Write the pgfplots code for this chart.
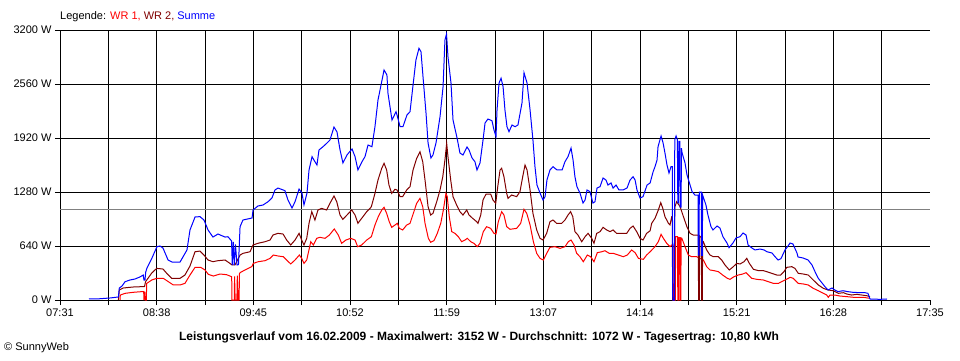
\documentclass[border=0pt]{standalone}
\usepackage{pgfplots}
\pgfplotsset{compat=1.18}
\usepackage{fontspec}
\setmainfont{Liberation Sans}
\definecolor{wrone}{RGB}{255,0,0}
\definecolor{wrtwo}{RGB}{128,0,0}
\definecolor{summe}{RGB}{0,0,255}
\definecolor{avg}{RGB}{128,128,128}
\begin{document}
\begin{tikzpicture}[x=1pt,y=1pt]
\path[use as bounding box] (0,0) rectangle (960,360);
\begin{axis}[
  at={(60pt,60pt)}, anchor=south west,
  width=870pt, height=270pt, scale only axis,
  xmin=0, xmax=603, ymin=0, ymax=3200,
  clip=false,
  axis line style={draw=none},
  xtick={0,33.5,67,100.5,134,167.5,201,234.5,268,301.5,335,368.5,402,435.5,469,502.5,536,569.5},
  xticklabels={07:31,,08:38,,09:45,,10:52,,11:59,,13:07,,14:14,,15:21,,16:28,},
  extra x ticks={603}, extra x tick labels={17:35},
  extra x tick style={grid=none},
  ytick={0,640,1280,1920,2560,3200},
  yticklabels={0 W,640 W,1280 W,1920 W,2560 W,3200 W},
  grid=major, major grid style={black, line width=1pt},
  tick align=outside, major tick length=5pt,
  tick style={black, line width=1pt},
  tick pos=left,
  ticklabel style={font=\fontsize{11}{13}\selectfont},
]
\addplot[avg, line width=1pt] coordinates {(0,1072) (603,1072)};
% WR 1
\addplot[wrone, line width=1pt] table {
x y
41.6 0
41.8 59
45.1 79
50.6 91
56.6 99
58.0 99
58.2 0
58.7 100
59.1 0
59.8 0
60.1 197
63.6 237
67.0 257
71.6 257
75.1 217
78.5 178
83.2 178
86.6 197
90.1 296
93.6 387
97.5 387
100.5 356
102.8 304
106.3 284
110.9 308
115.5 300
117.8 284
119.0 276
119.2 0
120.8 0
121.0 280
121.4 0
122.6 0
122.9 290
123.4 0
124.1 0
124.4 310
124.8 324
128.2 356
132.9 395
134.0 434
137.4 454
142.1 466
145.6 494
147.8 533
151.3 521
154.8 513
157.1 474
159.9 427
162.9 474
165.9 533
167.5 494
169.1 434
171.0 474
172.8 612
173.8 691
175.6 652
177.9 731
180.2 743
183.7 731
186.7 770
190.1 842
192.9 770
195.2 672
198.2 711
201.5 731
204.5 711
206.3 632
209.1 652
212.6 711
215.8 750
218.3 889
220.6 988
223.0 1067
224.6 1099
226.4 1027
228.2 928
229.9 861
232.2 889
233.8 909
235.2 849
237.5 830
240.3 889
242.6 909
244.9 1027
247.2 1146
249.5 1205
251.4 1106
253.0 909
255.3 731
256.9 684
259.2 703
261.5 790
263.9 909
265.7 1067
267.5 1264
268.4 1225
269.8 988
271.5 810
273.8 790
276.1 750
278.4 691
280.7 711
282.3 731
284.7 691
286.9 672
289.2 632
291.1 672
293.4 810
295.7 869
298.5 849
300.8 790
302.2 782
303.8 928
306.1 1047
307.7 1007
309.6 869
311.9 838
316.5 849
319.3 909
321.6 1075
323.5 1027
325.8 889
328.1 691
330.4 553
332.7 494
335.0 474
337.3 553
339.6 624
343.1 632
346.6 612
350.0 632
352.3 691
354.2 711
356.3 652
358.1 553
360.4 513
362.7 454
365.5 533
367.8 513
370.1 454
372.4 561
375.5 572
377.7 584
380.7 553
383.5 553
387.0 533
390.4 513
393.2 533
396.2 593
398.6 561
400.9 494
404.3 482
406.6 533
409.0 572
412.4 632
414.7 691
416.6 778
418.2 731
420.5 672
422.8 632
424.0 652
424.9 652
425.1 0
426.5 0
426.7 750
428.0 750
428.2 0
428.7 0
428.9 740
429.6 740
429.8 0
430.3 0
430.5 735
431.0 731
433.2 632
435.5 533
437.9 513
441.3 513
445.9 474
448.2 395
450.5 356
453.3 348
456.3 336
459.3 296
462.5 257
464.4 245
467.1 276
470.1 296
473.2 308
475.5 324
477.1 296
479.4 257
482.9 245
487.5 237
490.9 217
494.4 197
497.9 197
500.2 217
502.5 237
504.8 257
506.0 269
508.2 257
511.7 197
515.2 190
518.6 178
522.1 138
525.6 110
529.1 79
531.4 59
532.5 32
533.7 59
537.1 59
540.6 47
545.3 40
549.9 32
556.9 32
561.1 20
};
% WR 2
\addplot[wrtwo, line width=1pt] table {
x y
40.5 0
41.1 118
43.7 142
50.6 154
56.6 158
58.6 160
59.3 217
63.6 320
67.0 375
71.4 367
74.0 316
77.4 257
83.2 257
86.6 296
90.1 403
93.6 572
97.0 580
99.8 533
102.6 474
106.0 454
109.5 466
114.4 474
117.8 434
119.2 415
121.3 415
124.8 533
126.8 553
131.7 572
133.8 652
137.2 672
142.1 691
145.6 711
147.6 770
151.1 790
154.6 782
157.1 711
159.9 652
162.9 711
165.7 790
167.5 711
169.1 652
171.0 731
172.6 909
174.5 1047
176.7 948
178.8 1067
181.4 1086
184.8 1067
187.1 1146
189.9 1233
191.8 1165
194.1 1007
196.0 956
198.9 1007
202.2 1067
204.5 1007
206.5 909
209.1 968
212.6 1047
214.9 1086
215.8 1106
218.3 1264
220.4 1422
223.0 1561
224.6 1620
226.4 1541
228.0 1363
229.9 1264
232.2 1312
233.6 1304
235.7 1225
237.5 1225
240.3 1304
242.6 1343
244.7 1541
247.2 1679
249.5 1758
251.4 1639
253.0 1422
255.1 1106
256.9 1007
258.5 1027
261.1 1165
263.4 1304
265.3 1461
266.8 1659
268.0 1857
268.9 1699
270.8 1422
272.4 1225
274.9 1126
277.2 1047
279.3 1007
281.9 1067
283.5 1007
286.0 968
288.8 928
289.7 909
291.6 1007
293.2 1185
295.3 1256
298.5 1256
300.1 1185
302.0 1146
303.4 1343
305.0 1541
306.1 1561
307.7 1461
309.6 1264
310.5 1205
313.0 1244
316.5 1225
318.8 1284
320.7 1461
322.3 1600
323.7 1541
325.8 1304
327.8 1027
330.4 830
332.7 731
334.8 711
337.3 790
339.6 928
341.7 948
344.2 909
347.7 909
350.0 948
352.1 1007
353.9 1047
355.4 988
356.9 810
359.0 770
361.6 691
363.9 750
366.0 790
368.5 731
370.1 672
372.0 790
374.3 810
376.4 861
378.9 830
381.2 810
383.3 830
385.8 790
392.8 790
395.1 849
397.2 877
399.7 810
402.0 731
404.1 711
406.6 790
409.0 821
410.1 909
412.4 968
414.7 1067
416.4 1153
417.8 1086
419.3 988
421.7 909
422.8 889
424.0 988
424.4 988
424.6 0
425.9 0
426.1 1100
427.4 1165
429.8 1106
432.1 988
434.5 869
436.7 790
439.0 770
441.8 770
442.4 770
442.6 0
443.1 0
443.3 760
444.5 740
444.7 0
445.2 0
445.4 700
445.9 691
448.2 593
450.5 533
452.8 513
456.3 513
458.6 474
460.9 415
463.9 356
466.7 395
469.0 434
471.3 427
474.1 454
476.0 494
477.8 434
480.6 364
484.1 348
487.5 348
489.8 336
493.3 316
496.8 296
499.5 296
501.8 336
503.7 387
507.2 395
509.4 375
511.7 316
515.2 308
518.6 296
522.1 237
525.6 178
529.1 138
532.5 118
536.0 110
539.5 79
543.0 87
545.3 71
548.7 59
552.2 67
555.7 59
559.1 51
561.4 40
};
% Summe
\addplot[summe, line width=1pt] table {
x y
20.1 12
27.7 15
34.7 24
40.5 36
41.1 142
43.0 166
45.1 217
48.5 237
52.0 249
55.4 273
57.7 296
58.2 237
58.9 237
59.4 330
60.3 380
63.8 500
67.2 632
69.3 640
71.4 615
74.9 474
77.6 450
83.2 450
88.0 593
90.1 830
93.6 984
97.0 988
99.8 948
102.6 830
106.0 746
109.5 782
114.4 746
116.4 750
118.9 700
119.4 415
120.1 690
120.8 415
121.6 660
122.7 415
123.7 420
124.8 869
126.8 948
133.1 972
133.8 1067
137.2 1114
140.7 1126
144.2 1165
146.9 1209
149.0 1304
151.1 1327
155.9 1296
158.0 1185
160.8 1090
162.9 1165
165.7 1315
167.7 1268
169.1 1126
171.2 1268
172.6 1541
174.7 1699
176.0 1659
178.1 1600
179.5 1778
182.3 1817
185.1 1861
187.1 1896
189.9 2050
192.0 1991
194.1 1778
196.1 1624
198.9 1719
202.4 1790
204.5 1699
206.5 1541
209.3 1639
211.4 1699
213.5 1837
216.2 1817
218.3 2054
220.4 2370
223.2 2607
224.6 2726
226.6 2667
227.3 2453
230.1 2133
230.8 2157
232.9 2232
233.6 2193
235.7 2054
237.7 2054
240.5 2193
242.6 2232
244.7 2548
246.7 2844
248.8 2983
250.2 2943
251.6 2647
253.7 2212
255.1 1861
257.1 1683
258.5 1719
260.6 1861
263.4 2173
265.5 2528
266.8 3081
267.9 3152
268.9 2884
271.0 2572
272.4 2133
275.2 1920
277.2 1742
279.3 1719
282.1 1813
283.5 1778
285.6 1683
287.6 1639
289.0 1541
291.1 1624
293.2 1896
294.6 2098
296.6 2145
299.4 2125
300.8 2015
302.2 1936
302.9 2252
304.3 2572
305.7 2628
307.1 2528
308.4 2252
309.8 2054
311.2 1995
313.3 2074
315.4 2054
317.4 2074
320.2 2335
321.6 2694
323.7 2572
325.8 2252
327.8 1896
329.2 1580
330.6 1363
332.7 1268
334.8 1185
336.2 1225
337.5 1422
339.6 1541
341.7 1580
344.5 1541
348.0 1541
350.0 1639
352.1 1699
354.2 1801
355.6 1659
356.9 1461
358.3 1343
360.4 1268
362.5 1149
363.9 1185
365.3 1304
367.3 1284
369.4 1149
370.8 1165
372.2 1327
374.3 1343
376.4 1446
378.4 1422
379.8 1363
381.9 1387
383.3 1327
385.4 1363
387.4 1304
390.2 1304
393.0 1327
395.1 1422
397.2 1461
398.6 1422
399.9 1304
402.0 1209
404.1 1225
406.9 1363
409.0 1387
411.1 1521
412.4 1580
413.8 1659
414.5 1817
416.6 1944
418.0 1861
419.3 1742
420.7 1600
422.1 1505
423.5 1580
424.4 1580
424.7 0
425.8 0
426.1 1900
427.0 1944
427.9 1900
428.2 1150
428.6 1150
428.9 1880
429.6 1880
429.8 1100
430.5 1100
430.7 1800
431.2 1742
433.2 1624
434.6 1481
436.7 1363
438.1 1284
440.1 1244
442.2 1244
442.4 533
442.9 533
443.1 1280
444.5 1280
444.7 530
445.2 530
445.4 1244
447.7 1126
449.1 1007
451.2 869
452.6 830
455.4 877
457.4 853
459.5 750
462.3 675
463.7 620
466.4 675
468.5 735
471.3 750
473.4 794
475.5 770
476.9 652
479.6 616
481.7 593
485.2 604
488.0 593
490.0 572
493.5 557
495.6 513
497.7 474
499.7 490
502.5 593
504.6 640
506.0 675
508.0 664
510.8 557
511.5 510
515.0 498
518.5 474
521.2 415
523.3 336
525.4 261
528.2 201
530.2 158
532.3 118
535.1 142
537.1 118
539.2 99
542.7 110
546.1 99
549.6 91
554.4 87
557.9 87
560.0 79
561.4 12
568.4 8
573.2 12
};
\end{axis}
\node[anchor=west, inner sep=0pt, font=\fontsize{11}{13}\selectfont] at (60,343)
  {Legende: \textcolor{wrone}{WR 1,} \textcolor{wrtwo}{WR 2,} \textcolor{summe}{Summe}};
\node[inner sep=0pt, font=\fontsize{12}{14}\selectfont\bfseries] at (479,23)
  {Leistungsverlauf vom 16.02.2009 - Maximalwert: 3152 W - Durchschnitt: 1072 W - Tagesertrag: 10,80 kWh};
\node[anchor=west, inner sep=0pt, font=\fontsize{11}{13}\selectfont] at (4,12) {© SunnyWeb};
\end{tikzpicture}
\end{document}
